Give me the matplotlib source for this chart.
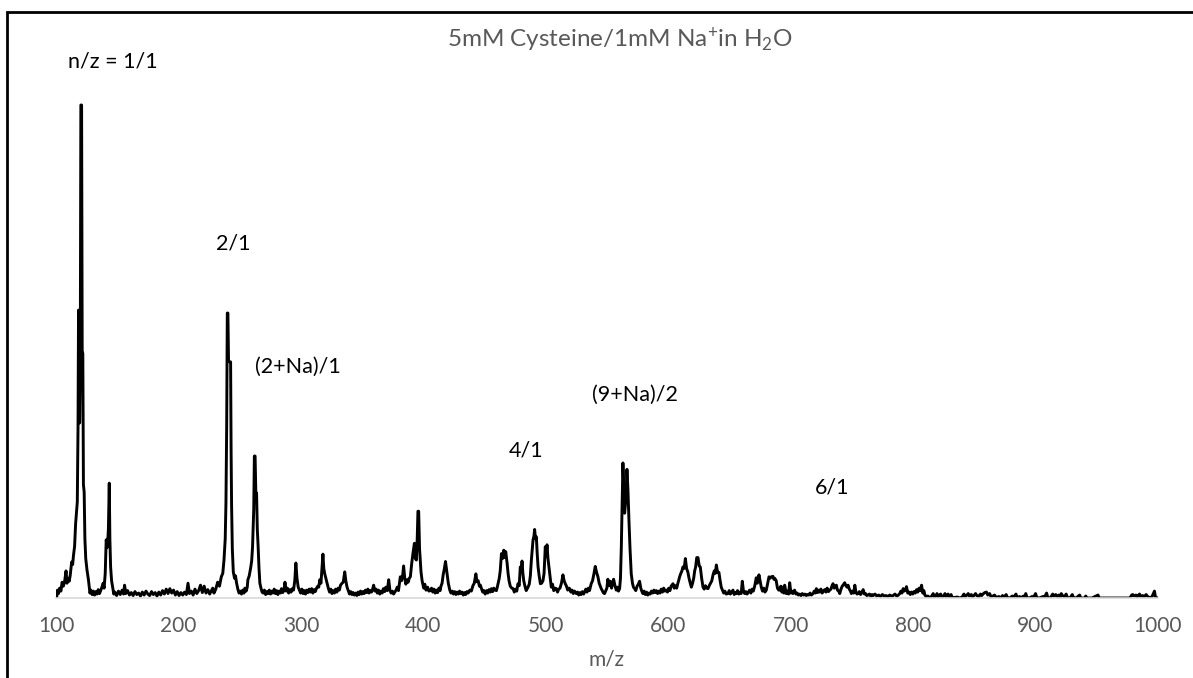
import matplotlib
matplotlib.use("Agg")
import matplotlib.pyplot as plt
from matplotlib.patches import Rectangle

plt.rcParams['font.family'] = ['Lato', 'DejaVu Sans']
plt.rcParams['mathtext.fontset'] = 'custom'
plt.rcParams['mathtext.rm'] = 'Lato'
plt.rcParams['mathtext.it'] = 'Lato:italic'

# spectrum (m/z, relative intensity, tallest peak = 100)
mz = [
    100.5, 101.2, 102.0, 103.0, 104.0, 105.0, 106.0, 107.0, 108.2, 109.0,
    110.0, 110.8, 111.6, 112.8, 113.6, 114.3, 115.2, 116.0, 116.8, 117.4,
    118.0, 118.4, 118.9, 119.3, 119.8, 120.3, 120.9, 121.4, 121.9, 122.4,
    123.0, 123.6, 124.3, 125.3, 126.5, 127.7, 128.5, 129.5, 130.5, 131.5,
    132.5, 133.5, 134.5, 135.5, 136.5, 137.5, 138.5, 139.3, 140.2, 141.0,
    142.0, 142.8, 143.5, 144.0, 144.6, 145.4, 146.3, 147.2, 148.0, 149.5,
    151.0, 152.5, 154.0, 155.2, 156.0, 157.0, 158.5, 160.0, 161.5, 163.0,
    164.5, 166.0, 167.5, 169.0, 170.5, 172.0, 173.5, 175.0, 176.5, 178.0,
    179.5, 181.0, 182.5, 184.0, 185.5, 187.0, 188.5, 190.0, 191.5, 193.0,
    194.5, 196.0, 197.5, 199.0, 200.5, 202.0, 203.5, 205.0, 206.5, 207.8,
    209.0, 210.5, 212.0, 213.5, 215.0, 216.5, 218.0, 219.5, 221.0, 222.5,
    224.0, 225.5, 227.0, 228.0, 229.0, 230.5, 232.0, 233.5, 235.0, 236.2,
    237.2, 238.2, 238.8, 239.4, 239.9, 240.4, 240.9, 242.0, 242.6, 243.0,
    243.4, 244.0, 244.8, 245.8, 246.6, 247.5, 248.5, 249.5, 250.5, 251.5,
    252.5, 253.5, 254.3, 255.3, 256.2, 256.7, 257.8, 258.9, 259.8, 260.5,
    261.5, 262.0, 262.6, 263.2, 263.8, 264.4, 265.1, 265.8, 266.5, 267.4,
    268.3, 269.2, 270.2, 271.2, 272.2, 273.2, 274.2, 275.2, 276.2, 277.2,
    278.2, 279.2, 280.2, 281.2, 282.2, 283.2, 284.2, 285.2, 286.2, 287.0,
    288.0, 289.0, 290.0, 291.0, 292.0, 293.0, 294.0, 295.0, 295.9, 296.8,
    297.8, 298.8, 299.8, 300.8, 301.8, 302.8, 303.8, 304.8, 305.8, 306.8,
    307.8, 308.8, 309.8, 310.8, 311.8, 312.8, 313.8, 314.6, 315.4, 316.4,
    317.3, 318.0, 318.7, 319.4, 320.4, 321.4, 322.4, 323.4, 324.4, 325.4,
    326.4, 327.4, 328.4, 329.4, 330.4, 331.4, 332.4, 333.6, 334.6, 335.8,
    336.7, 337.7, 338.7, 339.7, 340.7, 341.7, 342.7, 343.7, 344.7, 345.7,
    346.7, 347.7, 348.7, 349.7, 350.7, 351.7, 352.7, 353.7, 354.7, 355.7,
    356.7, 357.7, 358.7, 359.4, 360.4, 361.4, 362.4, 363.4, 364.4, 365.4,
    366.4, 367.4, 368.4, 369.4, 370.6, 371.7, 372.7, 373.7, 374.7, 375.7,
    376.7, 377.7, 378.7, 379.7, 380.5, 381.2, 382.2, 383.2, 383.9, 384.8,
    385.7, 386.7, 387.6, 388.5, 389.4, 390.5, 391.5, 392.7, 393.5, 394.3,
    395.0, 395.6, 396.2, 396.9, 398.1, 399.0, 400.3, 401.2, 402.2, 403.5,
    404.5, 405.7, 406.7, 407.7, 408.7, 409.7, 410.7, 411.7, 412.7, 413.7,
    414.4, 415.3, 416.2, 417.2, 418.1, 418.8, 419.4, 420.4, 421.6, 422.6,
    423.6, 424.6, 425.6, 426.6, 427.6, 428.6, 429.6, 430.6, 431.6, 432.6,
    433.6, 434.6, 435.6, 436.6, 438.0, 439.2, 440.5, 441.6, 442.9, 443.8,
    444.8, 445.8, 446.6, 447.5, 448.5, 449.5, 450.5, 451.6, 452.6, 453.6,
    454.6, 455.6, 456.6, 457.6, 458.6, 459.7, 460.4, 461.0, 462.0, 462.8,
    463.8, 464.7, 465.7, 466.5, 467.3, 468.4, 469.2, 470.0, 471.0, 472.2,
    473.3, 474.3, 475.3, 476.3, 477.3, 478.3, 479.2, 480.0, 480.6, 481.3,
    482.0, 483.0, 484.0, 485.5, 486.5, 487.4, 488.2, 489.0, 489.6, 490.3,
    490.9, 491.6, 492.3, 493.0, 493.7, 494.6, 495.6, 496.6, 497.7, 498.6,
    499.6, 500.3, 501.0, 501.8, 502.6, 503.5, 504.5, 505.5, 506.5, 507.5,
    508.6, 509.6, 510.6, 511.6, 512.7, 513.4, 514.0, 515.0, 515.9, 516.9,
    517.9, 518.9, 519.5, 520.5, 521.5, 522.5, 523.5, 524.9, 525.9, 526.9,
    527.9, 528.9, 529.9, 530.9, 531.7, 532.7, 533.7, 534.7, 535.7, 537.1,
    538.2, 539.4, 540.4, 541.5, 542.6, 543.6, 544.5, 545.3, 546.3, 547.2,
    548.0, 549.0, 549.9, 550.7, 551.7, 552.7, 553.7, 554.6, 555.4, 556.5,
    557.6, 558.5, 559.4, 560.3, 561.0, 561.7, 562.4, 563.0, 563.7, 564.4,
    565.4, 566.3, 567.1, 567.9, 568.8, 569.8, 570.8, 571.6, 572.5, 573.5,
    574.6, 575.6, 576.6, 577.6, 578.4, 579.3, 580.3, 581.3, 582.3, 583.3,
    584.3, 585.3, 586.3, 587.3, 588.3, 589.3, 590.3, 591.3, 592.3, 593.3,
    594.3, 595.3, 596.3, 597.3, 598.4, 599.4, 600.4, 601.4, 602.4, 603.9,
    604.9, 605.9, 606.9, 607.9, 608.6, 609.3, 610.3, 611.2, 612.0, 613.0,
    614.0, 615.0, 616.1, 617.0, 618.0, 618.9, 619.9, 620.8, 621.6, 622.4,
    623.3, 624.3, 625.3, 626.2, 627.3, 628.4, 629.4, 630.4, 631.4, 632.5,
    633.5, 634.5, 635.6, 636.6, 637.6, 638.5, 639.3, 640.3, 641.4, 642.4,
    643.3, 644.3, 645.3, 646.3, 647.3, 648.8, 649.8, 650.8, 651.8, 652.9,
    653.9, 654.9, 655.6, 656.6, 657.6, 658.6, 659.6, 660.5, 661.4, 662.4,
    663.4, 664.4, 665.5, 666.5, 667.5, 668.5, 669.5, 670.7, 671.9, 672.8,
    673.5, 674.1, 675.0, 676.0, 677.0, 678.0, 679.0, 680.1, 681.1, 682.3,
    683.2, 684.2, 685.5, 686.3, 687.0, 688.2, 689.2, 690.2, 691.0, 692.0,
    692.8, 693.7, 694.5, 695.1, 696.4, 697.4, 698.3, 699.2, 700.2, 701.1,
    701.9, 703.2, 704.3, 705.3, 706.3, 707.4, 708.5, 709.5, 710.6, 711.6,
    712.7, 713.7, 714.8, 715.8, 716.9, 718.3, 719.2, 720.1, 721.0, 722.0,
    723.0, 723.7, 724.7, 725.7, 726.8, 727.8, 728.8, 729.8, 730.9, 731.9,
    732.9, 733.8, 734.6, 735.6, 736.4, 737.3, 738.2, 739.2, 740.1, 741.1,
    742.1, 743.1, 744.1, 745.1, 746.0, 746.9, 747.9, 748.8, 749.6, 750.6,
    751.5, 752.4, 753.3, 754.2, 755.1, 756.1, 757.1, 758.2, 759.2, 760.2,
    761.2, 762.2, 763.3, 764.3, 765.4, 766.4, 767.4, 768.9, 770.4, 771.9,
    773.4, 774.9, 776.4, 777.9, 779.4, 780.9, 782.4, 783.7, 785.2, 786.6,
    788.0, 789.1, 790.0, 790.9, 791.9, 792.9, 793.8, 794.6, 795.6, 796.6,
    797.7, 798.7, 799.7, 800.7, 801.8, 802.8, 803.8, 804.9, 805.9, 806.9,
    807.9, 808.8, 809.6, 810.6, 812.0, 813.5, 815.0, 816.4, 817.4, 818.5,
    819.5, 820.5, 821.5, 822.5, 823.5, 825.0, 826.0, 827.0, 828.5, 829.5,
    831.0, 832.0, 834.0, 836.0, 838.2, 840.0, 841.5, 842.5, 844.0, 845.0,
    846.0, 847.5, 848.5, 850.0, 851.0, 852.0, 853.5, 855.0, 856.0, 857.5,
    858.5, 859.9, 861.0, 862.5, 863.5, 865.4, 866.5, 868.0, 870.0, 871.5,
    873.0, 874.0, 876.0, 877.0, 879.0, 881.0, 882.0, 884.0, 885.0, 887.0,
    888.0, 890.0, 891.0, 892.0, 893.0, 895.0, 897.0, 898.0, 900.0, 901.0,
    903.0, 906.0, 907.0, 909.0, 910.0, 912.0, 914.0, 915.0, 916.5, 917.5,
    919.0, 920.0, 921.0, 922.0, 923.5, 925.0, 926.0, 928.0, 930.0, 931.0,
    933.0, 936.0, 937.0, 940.0, 941.0, 942.0, 946.0, 951.0, 952.0, 960.0,
    970.0, 977.0, 978.5, 979.4, 980.5, 982.0, 983.0, 984.9, 986.0, 987.5,
    988.5, 990.3, 991.5, 993.0, 995.0, 997.1, 998.0, 1000.0,
]

intensity = [
    0.0, 1.6, 0.9, 2.0, 1.4, 3.2, 2.4, 3.3, 5.5, 3.0,
    4.0, 3.4, 4.6, 7.3, 6.8, 8.7, 10.5, 15.0, 17.5, 19.5,
    35.0, 58.4, 58.4, 35.5, 45.0, 100.0, 100.0, 49.7, 49.7, 23.0,
    21.5, 12.0, 8.0, 5.7, 3.7, 1.0, 1.6, 0.7, 1.4, 0.6,
    1.3, 0.8, 1.7, 0.9, 1.5, 2.2, 3.0, 2.0, 5.0, 11.8,
    10.3, 14.0, 23.3, 12.0, 6.3, 3.5, 2.2, 0.8, 1.2, 0.5,
    1.4, 0.7, 1.6, 0.8, 2.6, 0.9, 1.5, 0.6, 1.1, 0.5,
    1.3, 0.7, 1.0, 0.4, 1.2, 0.6, 1.4, 0.8, 0.5, 1.3,
    0.7, 1.1, 0.4, 1.2, 0.6, 1.5, 0.8, 1.8, 0.9, 1.9,
    1.0, 1.6, 0.6, 1.3, 0.5, 1.1, 0.6, 1.2, 0.7, 3.0,
    0.9, 1.4, 0.6, 1.8, 0.9, 1.5, 2.6, 1.1, 2.4, 1.0,
    1.7, 0.8, 1.5, 2.0, 1.0, 1.8, 3.2, 2.4, 4.3, 5.0,
    7.7, 12.0, 19.3, 35.0, 57.8, 57.8, 48.0, 47.9, 47.9, 30.0,
    18.9, 10.0, 5.3, 4.0, 4.5, 3.0, 1.8, 1.0, 1.4, 0.8,
    1.6, 1.0, 2.0, 1.4, 2.2, 3.7, 4.5, 6.0, 7.5, 10.3,
    18.0, 28.8, 28.8, 21.3, 21.3, 14.0, 10.3, 6.0, 3.0, 2.0,
    1.2, 1.0, 1.6, 0.7, 1.3, 0.9, 1.6, 0.8, 1.4, 1.0,
    1.8, 0.9, 1.5, 0.7, 1.4, 1.0, 1.9, 1.1, 1.6, 3.2,
    1.4, 2.0, 1.0, 1.7, 1.2, 1.9, 1.6, 3.5, 7.1, 4.0,
    2.2, 1.6, 1.0, 1.8, 0.9, 1.5, 0.8, 1.6, 1.1, 1.8,
    1.2, 1.9, 1.0, 1.7, 1.3, 2.0, 2.4, 2.2, 3.7, 3.0,
    6.5, 8.9, 6.0, 5.0, 4.0, 3.0, 2.0, 1.2, 1.8, 0.9,
    1.5, 1.0, 1.8, 1.2, 2.0, 1.6, 2.6, 3.0, 3.2, 5.3,
    3.5, 2.2, 1.5, 0.8, 1.3, 0.7, 1.1, 0.6, 1.0, 0.5,
    1.2, 0.7, 1.4, 0.8, 1.3, 0.9, 1.6, 1.1, 1.8, 1.0,
    1.5, 1.2, 1.9, 2.6, 1.4, 1.8, 1.0, 1.6, 0.8, 1.4,
    1.0, 1.9, 1.3, 2.2, 1.5, 3.7, 1.6, 1.0, 1.4, 0.8,
    1.2, 1.6, 2.2, 1.5, 3.0, 4.3, 3.5, 4.8, 6.5, 4.0,
    2.8, 3.7, 3.2, 4.0, 4.3, 7.0, 9.0, 11.1, 8.0, 7.7,
    12.0, 17.6, 17.6, 10.0, 5.3, 3.5, 2.0, 2.8, 1.6, 2.2,
    1.4, 1.5, 2.0, 1.2, 1.8, 1.0, 1.6, 1.1, 2.0, 1.5,
    2.4, 3.0, 4.7, 6.0, 7.4, 6.0, 4.9, 3.0, 1.6, 1.0,
    1.4, 0.8, 1.3, 0.7, 1.2, 0.8, 1.4, 0.9, 1.2, 0.6,
    1.1, 0.7, 1.3, 1.0, 1.6, 1.4, 2.5, 3.0, 4.9, 3.3,
    3.5, 2.4, 2.6, 1.9, 1.2, 1.5, 0.8, 1.5, 1.0, 1.7,
    1.2, 1.9, 1.3, 2.0, 1.6, 1.5, 2.2, 2.9, 4.0, 5.5,
    9.0, 8.0, 9.7, 8.2, 9.4, 7.1, 5.0, 3.5, 2.4, 2.0,
    1.9, 1.2, 1.8, 1.4, 2.9, 2.5, 6.3, 5.5, 7.5, 5.0,
    3.5, 2.4, 1.5, 2.2, 2.8, 4.5, 7.6, 10.0, 11.8, 12.5,
    13.9, 12.0, 12.4, 9.0, 6.3, 4.5, 2.9, 3.0, 3.5, 5.0,
    10.4, 8.5, 10.8, 8.0, 6.3, 4.5, 2.2, 2.8, 1.5, 2.0,
    1.9, 1.2, 1.8, 2.0, 2.9, 3.8, 4.7, 3.5, 2.9, 2.4,
    1.6, 2.0, 1.9, 1.2, 1.6, 0.9, 1.4, 0.9, 1.2, 0.6,
    1.1, 0.7, 1.3, 0.8, 1.2, 1.8, 1.2, 2.0, 1.5, 2.9,
    3.5, 5.0, 6.4, 5.2, 4.3, 3.0, 2.4, 1.9, 1.4, 1.0,
    0.9, 1.5, 2.0, 3.8, 2.5, 3.4, 2.0, 3.0, 3.8, 2.5,
    1.6, 2.2, 1.4, 1.9, 4.0, 10.4, 20.0, 27.4, 22.0, 17.2,
    20.0, 26.1, 22.0, 15.9, 10.0, 4.9, 3.0, 2.2, 1.9, 1.5,
    2.4, 2.8, 3.4, 2.0, 1.4, 0.9, 1.4, 0.7, 1.2, 0.6,
    1.0, 0.8, 1.4, 1.0, 1.6, 1.1, 1.5, 0.9, 1.4, 1.0,
    1.8, 1.2, 2.0, 1.4, 1.6, 1.2, 2.0, 1.5, 2.4, 2.9,
    2.0, 2.5, 2.0, 3.0, 3.6, 4.3, 5.0, 5.5, 6.3, 6.0,
    8.0, 6.0, 5.2, 4.0, 3.0, 2.2, 3.0, 4.0, 5.5, 6.3,
    8.2, 8.2, 6.5, 6.3, 4.0, 2.2, 1.8, 2.5, 2.0, 1.9,
    2.5, 3.0, 3.5, 4.7, 5.5, 5.0, 6.7, 5.2, 5.2, 3.5,
    2.2, 1.6, 1.0, 1.4, 0.8, 0.9, 1.5, 0.8, 1.2, 1.6,
    0.7, 1.1, 0.9, 1.5, 0.8, 1.2, 0.9, 3.4, 1.5, 0.9,
    1.3, 0.8, 1.2, 1.6, 1.0, 1.8, 1.4, 2.5, 4.1, 3.0,
    3.8, 4.7, 3.5, 2.2, 1.4, 2.0, 1.2, 1.6, 2.8, 4.3,
    4.0, 4.3, 4.4, 3.8, 4.0, 3.5, 2.0, 1.6, 1.6, 2.4,
    1.2, 2.2, 1.0, 2.6, 0.9, 1.4, 0.8, 3.1, 1.0, 1.4,
    0.9, 1.6, 0.8, 1.0, 0.6, 0.8, 0.5, 0.9, 0.6, 0.8,
    0.5, 0.7, 0.6, 1.0, 0.6, 0.9, 1.4, 1.0, 1.9, 1.1,
    1.6, 1.2, 1.8, 1.0, 1.4, 1.7, 1.2, 2.0, 1.3, 1.6,
    1.8, 2.5, 2.9, 2.0, 2.4, 2.6, 1.6, 1.4, 0.9, 1.8,
    2.4, 2.7, 3.1, 2.5, 2.2, 2.6, 1.8, 1.4, 0.9, 1.4,
    1.0, 2.6, 1.2, 0.8, 0.9, 1.3, 0.7, 1.1, 1.7, 0.8,
    0.9, 0.5, 0.6, 0.8, 0.4, 0.7, 0.5, 0.8, 0.4, 0.6,
    0.3, 0.7, 0.4, 0.5, 0.3, 0.6, 0.4, 0.5, 0.8, 0.4,
    0.6, 0.9, 1.4, 1.0, 1.9, 1.4, 1.7, 2.3, 1.0, 1.2,
    0.7, 1.2, 0.8, 1.3, 1.0, 1.7, 1.2, 2.0, 1.5, 2.6,
    1.0, 1.5, 0.6, 0.3, 0.4, 0.1, 0.3, 0.9, 0.2, 0.4,
    0.9, 0.2, 0.6, 0.8, 0.2, 0.4, 0.9, 0.3, 0.8, 0.2,
    0.7, 0.1, 0.1, 0.2, 0.0, 0.2, 0.8, 0.3, 0.6, 0.9,
    0.4, 0.7, 0.2, 0.6, 0.9, 0.5, 0.3, 0.8, 0.5, 0.9,
    1.1, 1.2, 0.6, 0.9, 0.3, 0.4, 0.6, 0.1, 0.3, 0.0,
    0.5, 0.1, 0.7, 0.1, 0.0, 0.4, 0.1, 0.8, 0.1, 0.3,
    0.0, 0.4, 0.1, 0.9, 0.1, 0.0, 0.3, 0.0, 0.9, 0.1,
    0.0, 0.3, 0.0, 1.0, 0.1, 0.0, 0.8, 0.4, 0.7, 0.3,
    0.6, 0.2, 0.9, 0.5, 0.2, 0.8, 0.1, 0.0, 0.7, 0.1,
    0.0, 0.6, 0.0, 0.0, 0.4, 0.0, 0.0, 0.6, 0.0, 0.0,
    0.0, 0.0, 0.6, 0.7, 0.4, 0.6, 0.2, 0.8, 0.3, 0.5,
    0.2, 0.7, 0.3, 0.1, 0.2, 1.4, 0.1, 0.0,
]

assert len(mz) == len(intensity), (len(mz), len(intensity))

# peak labels and where they sit (m/z, intensity)
labels = ['n/z = 1/1', '2/1', '(2+Na)/1', '4/1', '(9+Na)/2', '6/1']
label_x = [146.6, 244.6, 297.6, 483.9, 572.9, 733.8]
label_y = [108.9, 72.0, 46.9, 30.0, 41.2, 22.5]

W, H = 1193, 678
fig = plt.figure(figsize=(W / 100, H / 100), dpi=100)
ax = fig.add_axes([56 / W, (H - 598) / H, (1158 - 56) / W, (598 - 60) / H])

ax.plot(mz, intensity, color='black', lw=2.1)
ax.set_xlim(100, 1000)
ax.set_ylim(0, 538 / 4.93)

for s in ['top', 'right', 'left']:
    ax.spines[s].set_visible(False)
ax.spines['bottom'].set_color('#d9d9d9')
ax.spines['bottom'].set_linewidth(1.2)
ax.set_yticks([])
ax.set_xticks(range(100, 1001, 100))
ax.tick_params(axis='x', length=0, pad=13, labelsize=15, labelcolor='#595959')
ax.set_xlabel('m/z', fontsize=15, color='#595959', labelpad=10)

for t, x, y in zip(labels, label_x, label_y):
    ax.text(x, y, t, ha='center', va='center', fontsize=15.5, color='black')

fig.text(620 / W, 1 - 40 / H, '5mM Cysteine/1mM Na$^{+}$in H$_{2}$O',
         ha='center', va='center', fontsize=17.5, color='#595959')

# chart frame (runs off the right and bottom edges)
fig.add_artist(Rectangle((7 / W, -0.05), 1.1, 1.05 - 12 / H,
                         transform=fig.transFigure, fill=False,
                         lw=2, ec='black'))

fig.savefig('out.png', dpi=100)
